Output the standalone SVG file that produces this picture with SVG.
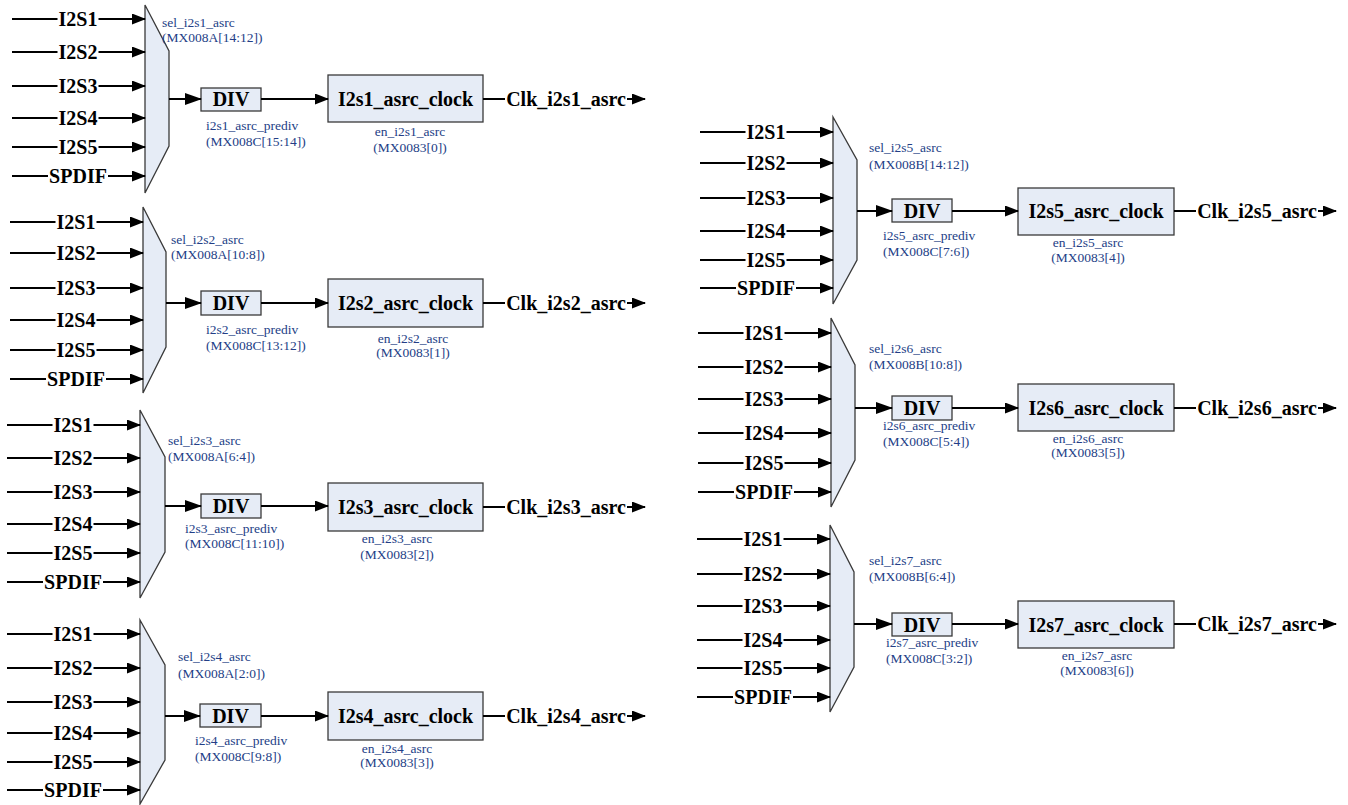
<svg xmlns="http://www.w3.org/2000/svg" width="1348" height="805" viewBox="0 0 1348 805">
<defs>
<style>
.mux,.box{fill:#e6ecf6;stroke:#3a3a3a;stroke-width:1.3}
.w{stroke:#000;stroke-width:2;fill:none}
.a{marker-end:url(#arr)}
.b{marker-end:url(#arrL)}
.lb{font-family:"Liberation Serif","Times New Roman",serif;font-weight:bold;font-size:20px;fill:#000}
.c{text-anchor:middle}
.sm{font-family:"Liberation Serif","Times New Roman",serif;font-size:13.5px;fill:#233e86}
</style>
<marker id="arr" markerUnits="userSpaceOnUse" markerWidth="14" markerHeight="11" refX="13" refY="5.5" orient="auto"><path d="M0,0 L14,5.5 L0,11 z" fill="#000"/></marker>
<marker id="arrL" markerUnits="userSpaceOnUse" markerWidth="17" markerHeight="12" refX="16" refY="6" orient="auto"><path d="M0,0 L17,6 L0,12 z" fill="#000"/></marker>
</defs>
<rect width="1348" height="805" fill="#fff"/>

<!-- nodes -->
<g id="mux1"><polygon class="mux" points="145,5 169,51 169,146 145,193"/><text class="sm" x="162" y="27">sel_i2s1_asrc</text><text class="sm" x="162" y="42">(MX008A[14:12])</text></g>
<g id="div1"><rect class="box" x="201" y="88" width="60" height="23"/><text class="lb c" x="231" y="106">DIV</text><text class="sm" x="206" y="130">i2s1_asrc_prediv</text><text class="sm" x="206" y="146">(MX008C[15:14])</text></g>
<g id="clk1"><rect class="box" x="328" y="75" width="155" height="47"/><text class="lb c" x="405.5" y="106">I2s1_asrc_clock</text><text class="sm c" x="410" y="136">en_i2s1_asrc</text><text class="sm c" x="410" y="152">(MX0083[0])</text></g>

<g id="mux2"><polygon class="mux" points="143,207 166,252 166,347 143,393"/><text class="sm" x="171" y="244">sel_i2s2_asrc</text><text class="sm" x="171" y="259">(MX008A[10:8])</text></g>
<g id="div2"><rect class="box" x="201" y="291" width="60" height="24"/><text class="lb c" x="231" y="310">DIV</text><text class="sm" x="206" y="334">i2s2_asrc_prediv</text><text class="sm" x="206" y="350">(MX008C[13:12])</text></g>
<g id="clk2"><rect class="box" x="328" y="279" width="155" height="48"/><text class="lb c" x="405.5" y="310">I2s2_asrc_clock</text><text class="sm c" x="413" y="343">en_i2s2_asrc</text><text class="sm c" x="413" y="357">(MX0083[1])</text></g>

<g id="mux3"><polygon class="mux" points="140,410 165,457 165,552 140,598"/><text class="sm" x="168" y="445">sel_i2s3_asrc</text><text class="sm" x="168" y="461">(MX008A[6:4])</text></g>
<g id="div3"><rect class="box" x="201" y="494" width="60" height="24"/><text class="lb c" x="231" y="513">DIV</text><text class="sm" x="185" y="533">i2s3_asrc_prediv</text><text class="sm" x="185" y="548">(MX008C[11:10])</text></g>
<g id="clk3"><rect class="box" x="328" y="483" width="155" height="48"/><text class="lb c" x="405.5" y="514">I2s3_asrc_clock</text><text class="sm c" x="397" y="543">en_i2s3_asrc</text><text class="sm c" x="397" y="559">(MX0083[2])</text></g>

<g id="mux4"><polygon class="mux" points="140,620 165,665 165,760 140,804"/><text class="sm" x="178" y="661">sel_i2s4_asrc</text><text class="sm" x="178" y="678">(MX008A[2:0])</text></g>
<g id="div4"><rect class="box" x="200" y="704" width="61" height="23"/><text class="lb c" x="230.5" y="723">DIV</text><text class="sm" x="195" y="745">i2s4_asrc_prediv</text><text class="sm" x="195" y="761">(MX008C[9:8])</text></g>
<g id="clk4"><rect class="box" x="328" y="692" width="155" height="48"/><text class="lb c" x="405.5" y="723">I2s4_asrc_clock</text><text class="sm c" x="397" y="753">en_i2s4_asrc</text><text class="sm c" x="397" y="767">(MX0083[3])</text></g>

<g id="mux5"><polygon class="mux" points="833,117 857,160 857,260 833,304"/><text class="sm" x="869" y="152">sel_i2s5_asrc</text><text class="sm" x="869" y="169">(MX008B[14:12])</text></g>
<g id="div5"><rect class="box" x="892" y="199" width="60" height="23"/><text class="lb c" x="922" y="218">DIV</text><text class="sm" x="883" y="240">i2s5_asrc_prediv</text><text class="sm" x="883" y="256">(MX008C[7:6])</text></g>
<g id="clk5"><rect class="box" x="1018" y="188" width="156" height="47"/><text class="lb c" x="1096" y="218">I2s5_asrc_clock</text><text class="sm c" x="1088" y="247">en_i2s5_asrc</text><text class="sm c" x="1088" y="262">(MX0083[4])</text></g>

<g id="mux6"><polygon class="mux" points="831,318 855,365 855,460 831,507"/><text class="sm" x="869" y="353">sel_i2s6_asrc</text><text class="sm" x="869" y="369">(MX008B[10:8])</text></g>
<g id="div6"><rect class="box" x="892" y="396" width="60" height="24"/><text class="lb c" x="922" y="415">DIV</text><text class="sm" x="883" y="430">i2s6_asrc_prediv</text><text class="sm" x="883" y="446">(MX008C[5:4])</text></g>
<g id="clk6"><rect class="box" x="1018" y="384" width="156" height="47"/><text class="lb c" x="1096" y="414.5">I2s6_asrc_clock</text><text class="sm c" x="1088" y="443">en_i2s6_asrc</text><text class="sm c" x="1088" y="457">(MX0083[5])</text></g>

<g id="mux7"><polygon class="mux" points="830,525 854,572 854,667 830,712"/><text class="sm" x="869" y="565">sel_i2s7_asrc</text><text class="sm" x="869" y="581">(MX008B[6:4])</text></g>
<g id="div7"><rect class="box" x="892" y="613" width="60" height="23"/><text class="lb c" x="922" y="631.5">DIV</text><text class="sm" x="886" y="647">i2s7_asrc_prediv</text><text class="sm" x="886" y="663">(MX008C[3:2])</text></g>
<g id="clk7"><rect class="box" x="1018" y="601" width="156" height="47"/><text class="lb c" x="1096" y="631.5">I2s7_asrc_clock</text><text class="sm c" x="1097" y="660">en_i2s7_asrc</text><text class="sm c" x="1097" y="675">(MX0083[6])</text></g>

<!-- connectors -->
<g id="connectors">
<!-- block 1 -->
<path class="w" d="M12,19H57.5M12,52H57.5M12,86H57.5M12,118H57.5M12,147H57.5M12,176H48"/>
<path class="w a" d="M98.5,19H145"/><path class="w a" d="M98.5,52H145"/><path class="w a" d="M98.5,86H145"/><path class="w a" d="M98.5,118H145"/><path class="w a" d="M98.5,147H145"/><path class="w a" d="M108,176H145"/>
<path class="w b" d="M169,99H201"/><path class="w a" d="M261,99H328"/>
<path class="w" d="M483,99H505"/><path class="w a" d="M627,99H645"/>
<!-- block 2 -->
<path class="w" d="M10,222H55.5M10,253H55.5M10,288H55.5M10,320H55.5M10,350H55.5M10,379H46"/>
<path class="w a" d="M96.5,222H143"/><path class="w a" d="M96.5,253H143"/><path class="w a" d="M96.5,288H143"/><path class="w a" d="M96.5,320H143"/><path class="w a" d="M96.5,350H143"/><path class="w a" d="M106,379H143"/>
<path class="w b" d="M166,303H201"/><path class="w a" d="M261,303H328"/>
<path class="w" d="M483,303H505"/><path class="w a" d="M627,303H645"/>
<!-- block 3 -->
<path class="w" d="M7,425H52.5M7,458H52.5M7,492H52.5M7,524H52.5M7,553H52.5M7,582H43"/>
<path class="w a" d="M93.5,425H140"/><path class="w a" d="M93.5,458H140"/><path class="w a" d="M93.5,492H140"/><path class="w a" d="M93.5,524H140"/><path class="w a" d="M93.5,553H140"/><path class="w a" d="M103,582H140"/>
<path class="w b" d="M165,506H201"/><path class="w a" d="M261,506H328"/>
<path class="w" d="M483,507H505"/><path class="w a" d="M627,507H645"/>
<!-- block 4 -->
<path class="w" d="M7,634H52.5M7,668H52.5M7,702H52.5M7,733H52.5M7,762H52.5M7,790H43"/>
<path class="w a" d="M93.5,634H140"/><path class="w a" d="M93.5,668H140"/><path class="w a" d="M93.5,702H140"/><path class="w a" d="M93.5,733H140"/><path class="w a" d="M93.5,762H140"/><path class="w a" d="M103,790H140"/>
<path class="w b" d="M165,716H200"/><path class="w a" d="M261,716H328"/>
<path class="w" d="M483,716H505"/><path class="w a" d="M627,716H645"/>
<!-- block 5 -->
<path class="w" d="M700,132H745.5M700,163H745.5M700,198H745.5M700,231H745.5M700,260H745.5M700,288H736"/>
<path class="w a" d="M786.5,132H833"/><path class="w a" d="M786.5,163H833"/><path class="w a" d="M786.5,198H833"/><path class="w a" d="M786.5,231H833"/><path class="w a" d="M786.5,260H833"/><path class="w a" d="M796,288H833"/>
<path class="w b" d="M857,211H892"/><path class="w a" d="M952,211H1018"/>
<path class="w" d="M1174,211H1196"/><path class="w a" d="M1318,211H1336"/>
<!-- block 6 -->
<path class="w" d="M698,333H743.5M698,367H743.5M698,399H743.5M698,433H743.5M698,463H743.5M698,492H734"/>
<path class="w a" d="M784.5,333H831"/><path class="w a" d="M784.5,367H831"/><path class="w a" d="M784.5,399H831"/><path class="w a" d="M784.5,433H831"/><path class="w a" d="M784.5,463H831"/><path class="w a" d="M794,492H831"/>
<path class="w b" d="M855,408H892"/><path class="w a" d="M952,408H1018"/>
<path class="w" d="M1174,408H1196"/><path class="w a" d="M1318,408H1336"/>
<!-- block 7 -->
<path class="w" d="M697,539H742.5M697,574H742.5M697,606H742.5M697,640H742.5M697,668H742.5M697,697H733"/>
<path class="w a" d="M783.5,539H830"/><path class="w a" d="M783.5,574H830"/><path class="w a" d="M783.5,606H830"/><path class="w a" d="M783.5,640H830"/><path class="w a" d="M783.5,668H830"/><path class="w a" d="M793,697H830"/>
<path class="w b" d="M854,624H892"/><path class="w a" d="M952,624H1018"/>
<path class="w" d="M1174,624H1196"/><path class="w a" d="M1318,624H1336"/>
</g>

<!-- connector labels -->
<g id="connector-labels" class="lb c">
<text x="78" y="26">I2S1</text><text x="78" y="59">I2S2</text><text x="78" y="93">I2S3</text><text x="78" y="125">I2S4</text><text x="78" y="154">I2S5</text><text x="78" y="183">SPDIF</text>
<text x="566" y="106">Clk_i2s1_asrc</text>
<text x="76" y="229">I2S1</text><text x="76" y="260">I2S2</text><text x="76" y="295">I2S3</text><text x="76" y="327">I2S4</text><text x="76" y="357">I2S5</text><text x="76" y="386">SPDIF</text>
<text x="566" y="310">Clk_i2s2_asrc</text>
<text x="73" y="432">I2S1</text><text x="73" y="465">I2S2</text><text x="73" y="499">I2S3</text><text x="73" y="531">I2S4</text><text x="73" y="560">I2S5</text><text x="73" y="589">SPDIF</text>
<text x="566" y="514">Clk_i2s3_asrc</text>
<text x="73" y="641">I2S1</text><text x="73" y="675">I2S2</text><text x="73" y="709">I2S3</text><text x="73" y="740">I2S4</text><text x="73" y="769">I2S5</text><text x="73" y="797">SPDIF</text>
<text x="566" y="723">Clk_i2s4_asrc</text>
<text x="766" y="139">I2S1</text><text x="766" y="170">I2S2</text><text x="766" y="205">I2S3</text><text x="766" y="238">I2S4</text><text x="766" y="267">I2S5</text><text x="766" y="295">SPDIF</text>
<text x="1257" y="218">Clk_i2s5_asrc</text>
<text x="764" y="340">I2S1</text><text x="764" y="374">I2S2</text><text x="764" y="406">I2S3</text><text x="764" y="440">I2S4</text><text x="764" y="470">I2S5</text><text x="764" y="499">SPDIF</text>
<text x="1257" y="415">Clk_i2s6_asrc</text>
<text x="763" y="546">I2S1</text><text x="763" y="581">I2S2</text><text x="763" y="613">I2S3</text><text x="763" y="647">I2S4</text><text x="763" y="675">I2S5</text><text x="763" y="704">SPDIF</text>
<text x="1257" y="631">Clk_i2s7_asrc</text>
</g>
</svg>
